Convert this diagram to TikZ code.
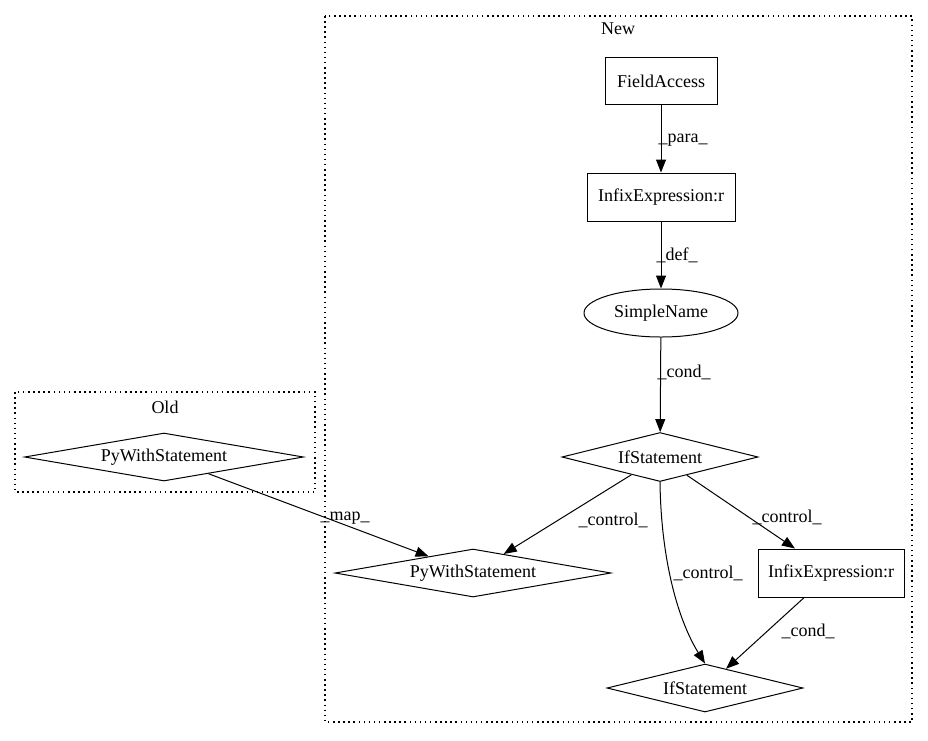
\documentclass[tikz,border=0pt]{standalone}
\usepackage{fontspec}
\setmainfont{Liberation Serif}
\usetikzlibrary{shapes.geometric,arrows.meta}
\tikzset{
  base/.style={draw,line width=1pt,inner sep=0pt,font=\fontsize{18}{21}\selectfont},
  boxnode/.style={base,rectangle},
  dia/.style={base,diamond,aspect=6},
  ell/.style={base,ellipse},
  cluster/.style={line width=1.2pt,dash pattern=on 1.5pt off 3.6pt},
  lbl/.style={inner sep=0pt,font=\fontsize{18}{21}\selectfont},
  edge/.style={line width=1pt,-{Triangle[length=13pt,width=10pt]}}
}
\begin{document}
\begin{tikzpicture}[x=1pt,y=-1pt]
\useasboundingbox (0,0) rectangle (928,740);
% clusters
\draw[cluster] (325,16) rectangle (912,722);
\node[lbl] (newlbl) at (618,29) {New};
\draw[cluster] (15,392) rectangle (315,492);
\node[lbl] (oldlbl) at (165,407) {Old};
% nodes
\node[boxnode,minimum width=112,minimum height=47] (fa) at (661,81) {FieldAccess};
\node[boxnode,minimum width=148,minimum height=48] (ie1) at (661,197) {InfixExpression:r};
\node[ell,minimum width=154,minimum height=48] (sn) at (661,313) {SimpleName};
\node[dia,minimum width=196,minimum height=49] (if1) at (660,457) {IfStatement};
\node[dia,minimum width=276,minimum height=48] (pw2) at (473,573) {PyWithStatement};
\node[boxnode,minimum width=146,minimum height=48] (ie2) at (831,573) {InfixExpression:r};
\node[dia,minimum width=196,minimum height=48] (if2) at (705,688) {IfStatement};
\node[dia,minimum width=279,minimum height=48] (pw1) at (164,457) {PyWithStatement};
% edges
\draw[edge] (fa) -- (ie1);
\node[lbl] (l1) at (683,140) {\_para\_};
\draw[edge] (ie1) -- (sn);
\node[lbl] (l2) at (677,255) {\_def\_};
\draw[edge] (sn) -- (if1);
\node[lbl] (l3) at (684,372) {\_cond\_};
\draw[edge] (if1) -- (pw2);
\node[lbl] (l4) at (613,520) {\_control\_};
\draw[edge] (if1.south) .. controls (661,560) and (678,620) .. (if2.north);
\node[lbl] (l5) at (708,573) {\_control\_};
\draw[edge] (if1) -- (ie2);
\node[lbl] (l6) at (787,517) {\_control\_};
\draw[edge] (ie2) -- (if2);
\node[lbl] (l7) at (808,631) {\_cond\_};
\draw[edge] (pw1) -- (pw2);
\node[lbl] (l8) at (345,518) {\_map\_};
\end{tikzpicture}
\end{document}
